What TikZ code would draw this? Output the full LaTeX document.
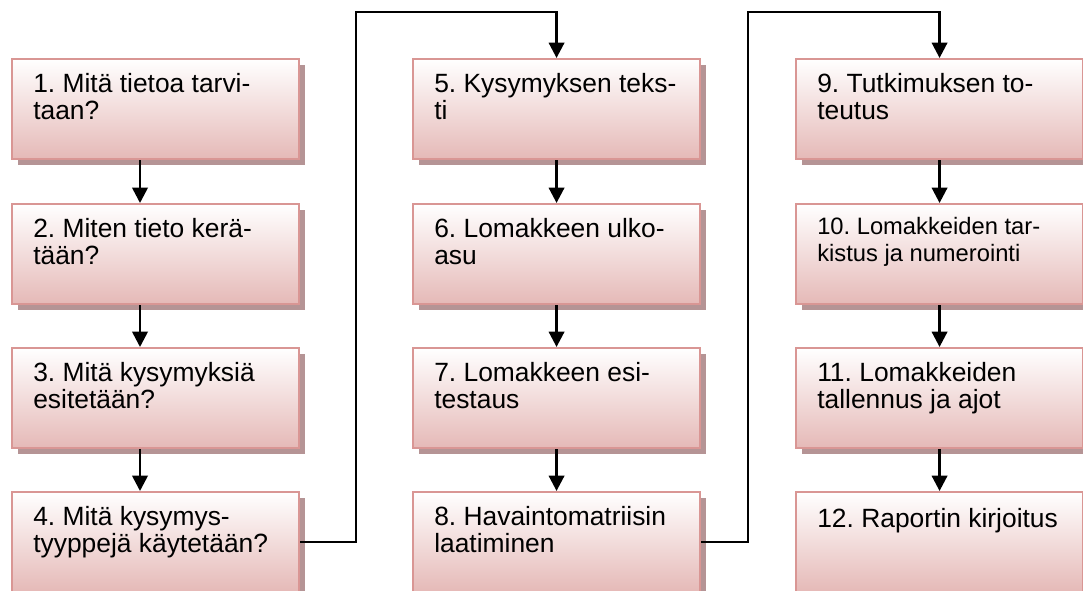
\documentclass[tikz,border=0pt]{standalone}
\usepackage{fontspec}
\setmainfont{Liberation Sans}
\frenchspacing
\usetikzlibrary{arrows.meta,shadows}
\definecolor{bordc}{HTML}{D99694}
\definecolor{fillc}{HTML}{E5B9B7}
\definecolor{shadc}{HTML}{B59495}
\begin{document}
\begin{tikzpicture}[x=0.75pt,y=-0.75pt,
  stepbox/.style={draw=bordc, line width=1.6pt, shading=axis,
    top color=white, bottom color=fillc,
    minimum width=215.25pt, minimum height=75pt, inner sep=0pt,
    anchor=north west,
    general shadow={fill=shadc, draw=none, shadow xshift=4.5pt, shadow yshift=-4.5pt}},
  steptext/.style={anchor=north west, inner sep=0pt, align=left,
    font=\fontsize{19.8pt}{20.6pt}\selectfont,
    execute at begin node={\rule{0pt}{15.84pt}}},
  smalltext/.style={steptext, font=\fontsize{17.8pt}{20.25pt}\selectfont,
    execute at begin node={\rule{0pt}{14.24pt}}},
  conn/.style={line width=2pt, black},
  arr/.style={conn, -{Triangle[width=11.5pt,length=11.5pt]}}]

\fill[white] (0,0) rectangle (1083,591);
\useasboundingbox (0,0) rectangle (1083,591);

% column 1
\node[stepbox] (b1) at (11,58) {};
\node[stepbox] (b2) at (11,203) {};
\node[stepbox] (b3) at (11,347) {};
\node[stepbox] (b4) at (11,491) {};
% column 2
\node[stepbox] (b5) at (412,58) {};
\node[stepbox] (b6) at (412,203) {};
\node[stepbox] (b7) at (412,347) {};
\node[stepbox] (b8) at (412,491) {};
% column 3
\node[stepbox] (b9) at (795,58) {};
\node[stepbox] (b10) at (795,203) {};
\node[stepbox] (b11) at (795,347) {};
\node[stepbox] (b12) at (795,491) {};

% step texts
\node[steptext] (t1) at (33,73) {1. Mitä tietoa tarvi-\\taan?};
\node[steptext] (t2) at (33,218) {2. Miten tieto kerä-\\tään?};
\node[steptext] (t3) at (33,362) {3. Mitä kysymyksiä\\esitetään?};
\node[steptext] (t4) at (33,506) {4. Mitä kysymys-\\tyyppejä käytetään?};
\node[steptext] (t5) at (434,73) {5. Kysymyksen teks-\\ti};
\node[steptext] (t6) at (434,218) {6. Lomakkeen ulko-\\asu};
\node[steptext] (t7) at (434,362) {7. Lomakkeen esi-\\testaus};
\node[steptext] (t8) at (434,506) {8. Havaintomatriisin\\laatiminen};
\node[steptext] (t9) at (817,73) {9. Tutkimuksen to-\\teutus};
\node[smalltext] (t10) at (817,217) {10. Lomakkeiden tar-\\kistus ja numerointi};
\node[steptext] (t11) at (817,362) {11. Lomakkeiden\\tallennus ja ajot};
\node[steptext] (t12) at (817,506) {12. Raportin kirjoitus};

% connectors
\coordinate (c1) at (140,0);
\draw[arr] (b1.south -| c1) -- (b2.north -| c1);
\draw[arr] (b2.south -| c1) -- (b3.north -| c1);
\draw[arr] (b3.south -| c1) -- (b4.north -| c1);
\draw[arr] (b5.south) -- (b6.north);
\draw[arr] (b6.south) -- (b7.north);
\draw[arr] (b7.south) -- (b8.north);
\draw[arr] (b9.south) -- (b10.north);
\draw[arr] (b10.south) -- (b11.north);
\draw[arr] (b11.south) -- (b12.north);

\coordinate (k1) at (356,12);
\coordinate (k2) at (748,12);
\draw[arr] (b4.east) -| (k1) -| (b5.north);
\draw[arr] (b8.east) -| (k2) -| (b9.north);
\end{tikzpicture}
\end{document}
